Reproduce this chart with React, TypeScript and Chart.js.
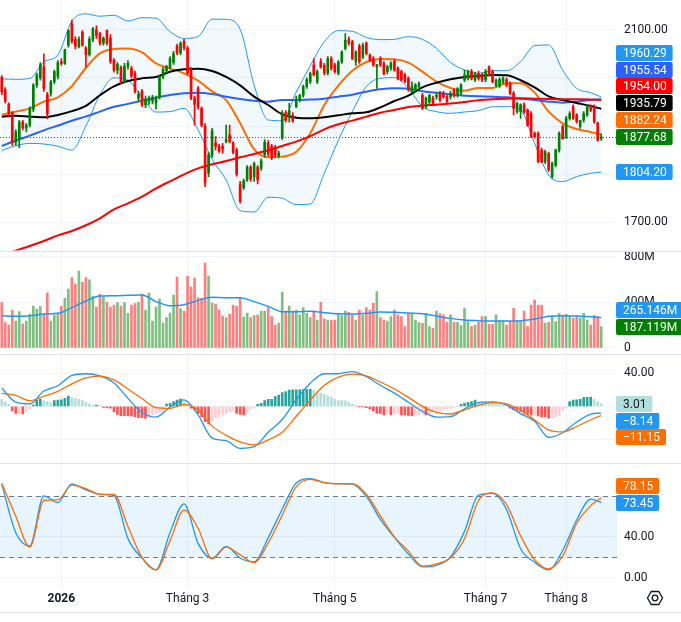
import React, { useEffect, useRef } from "react";
import { Chart, registerables } from "chart.js";

Chart.register(...registerables);

// ---------- Candles (one entry per trading day) ----------
const OPEN = [
  2001, 1975, 1945, 1928, 1866, 1875, 1908, 1896, 1902, 1935,
  1985, 2000, 2023, 1966, 1968, 1992, 2003, 2034, 2030, 2068,
  2112, 2080, 2065, 2095, 2062, 2048, 2080, 2100, 2092, 2072,
  2098, 2082, 2037, 2016, 2022, 1992, 2024, 2020, 2010, 1958,
  1972, 1944, 1950, 1952, 1948, 1960, 2002, 2015, 2022, 2032,
  2066, 2052, 2076, 2062, 2018, 1958, 1978, 1937, 1900, 1802,
  1840, 1865, 1858, 1858, 1868, 1882, 1865, 1850, 1778, 1772,
  1788, 1815, 1795, 1815, 1812, 1840, 1864, 1858, 1856, 1838,
  1875, 1928, 1920, 1922, 1940, 1954, 1964, 1982, 1992, 2027,
  1992, 2034, 2026, 2010, 2040, 2027, 2010, 2033, 2061, 2080,
  2075, 2034, 2066, 2044, 2072, 2047, 2040, 2023, 2040, 2030,
  2013, 2020, 2035, 2020, 2013, 2006, 1999, 1971, 1975, 1982,
  1964, 1940, 1950, 1958, 1961, 1968, 1968, 1961, 1961, 1974,
  1964, 1968, 1996, 1999, 2013, 1996, 2009, 2006, 1996, 2023,
  2013, 1985, 1983, 1992, 1996, 1988, 1968, 1930, 1930, 1944,
  1933, 1926, 1885, 1885, 1850, 1826, 1843, 1795, 1819, 1850,
  1899, 1878, 1916, 1940, 1923, 1899, 1912, 1923, 1941, 1940,
  1906, 1874,
];
const HIGH = [
  2005, 1980, 1948, 1930, 1892, 1912, 1912, 1905, 1940, 1988,
  2010, 2032, 2050, 1970, 1995, 2016, 2036, 2040, 2060, 2100,
  2120, 2086, 2085, 2098, 2065, 2085, 2105, 2108, 2095, 2085,
  2100, 2090, 2040, 2032, 2025, 2030, 2036, 2024, 2014, 1972,
  1976, 1962, 1962, 1964, 1962, 2005, 2022, 2026, 2044, 2055,
  2070, 2075, 2080, 2066, 2022, 1962, 1982, 1940, 1905, 1845,
  1895, 1878, 1862, 1864, 1902, 1902, 1868, 1854, 1785, 1790,
  1818, 1818, 1825, 1818, 1832, 1872, 1870, 1862, 1860, 1848,
  1932, 1932, 1947, 1928, 1962, 1966, 1985, 2000, 2012, 2040,
  2016, 2040, 2030, 2044, 2044, 2030, 2036, 2056, 2092, 2085,
  2078, 2056, 2070, 2072, 2075, 2050, 2044, 2028, 2044, 2034,
  2026, 2034, 2038, 2023, 2016, 2010, 2002, 1992, 1988, 1992,
  1968, 1960, 1966, 1962, 1970, 1972, 1972, 1964, 1972, 1978,
  1980, 1988, 2016, 2016, 2018, 2012, 2014, 2010, 2018, 2025,
  2016, 1998, 2000, 2002, 2000, 1992, 1972, 1950, 1946, 1948,
  1936, 1930, 1888, 1888, 1854, 1850, 1846, 1825, 1852, 1888,
  1902, 1920, 1930, 1944, 1926, 1912, 1930, 1945, 1944, 1944,
  1908, 1884,
];
const LOW = [
  1965, 1948, 1920, 1860, 1860, 1855, 1892, 1888, 1898, 1930,
  1980, 1995, 1972, 1915, 1962, 1988, 1998, 2026, 2028, 2064,
  2072, 2060, 2062, 2066, 2022, 2045, 2075, 2082, 2068, 2068,
  2068, 2030, 2012, 2008, 1988, 1990, 2018, 2000, 1968, 1952,
  1940, 1938, 1945, 1946, 1935, 1956, 1998, 2010, 2018, 2028,
  2048, 2048, 2058, 2006, 1955, 1902, 1935, 1898, 1774, 1795,
  1835, 1850, 1845, 1843, 1865, 1865, 1842, 1796, 1740, 1768,
  1785, 1785, 1785, 1780, 1808, 1836, 1838, 1830, 1836, 1834,
  1872, 1908, 1908, 1908, 1938, 1950, 1960, 1978, 1988, 2004,
  1988, 2020, 2006, 2006, 2016, 2010, 2006, 2030, 2058, 2068,
  2038, 2026, 2030, 2040, 2048, 2034, 2024, 1978, 2024, 2006,
  2008, 2016, 2014, 1996, 1993, 1990, 1972, 1968, 1972, 1975,
  1934, 1936, 1946, 1944, 1956, 1950, 1958, 1948, 1956, 1960,
  1960, 1964, 1992, 1996, 1996, 1992, 1995, 1992, 1992, 2004,
  1990, 1982, 1980, 1988, 1982, 1965, 1923, 1926, 1916, 1926,
  1899, 1876, 1875, 1824, 1824, 1822, 1806, 1791, 1815, 1846,
  1872, 1874, 1912, 1914, 1906, 1895, 1908, 1920, 1930, 1906,
  1868, 1870,
];
const CLOSE = [
  1971, 1952, 1925, 1866, 1888, 1908, 1896, 1902, 1937, 1985,
  2006, 2027, 1978, 1925, 1992, 2013, 2032, 2030, 2058, 2098,
  2076, 2066, 2080, 2068, 2048, 2080, 2102, 2088, 2072, 2082,
  2072, 2034, 2016, 2028, 1992, 2024, 2030, 2004, 1972, 1966,
  1944, 1956, 1958, 1960, 1958, 2002, 2018, 2024, 2040, 2050,
  2052, 2072, 2062, 2010, 1958, 1945, 1940, 1902, 1782, 1840,
  1890, 1858, 1848, 1852, 1872, 1868, 1845, 1800, 1744, 1786,
  1815, 1790, 1822, 1788, 1828, 1866, 1842, 1835, 1840, 1844,
  1928, 1912, 1932, 1910, 1954, 1964, 1982, 1996, 2009, 2006,
  2013, 2023, 2010, 2040, 2020, 2013, 2033, 2054, 2078, 2072,
  2040, 2054, 2034, 2068, 2051, 2037, 2027, 2027, 2027, 2009,
  2023, 2030, 2016, 1999, 1996, 1992, 1975, 1982, 1985, 1988,
  1937, 1958, 1964, 1947, 1964, 1954, 1961, 1951, 1968, 1964,
  1978, 1985, 2006, 2013, 1999, 2009, 1999, 1996, 2013, 2006,
  1992, 1995, 1997, 1999, 1985, 1968, 1937, 1947, 1944, 1930,
  1902, 1878, 1878, 1826, 1826, 1847, 1809, 1822, 1850, 1885,
  1874, 1916, 1926, 1916, 1909, 1912, 1926, 1940, 1933, 1909,
  1871, 1877.68,
];

// ---------- Volume (millions) ----------
const VOLUME_M = [
  397, 221, 201, 332, 236, 318, 210, 236, 297, 367,
  341, 362, 294, 484, 236, 289, 303, 367, 435, 517,
  616, 560, 674, 575, 616, 598, 455, 359, 470, 449,
  400, 359, 376, 397, 367, 397, 303, 376, 388, 400,
  473, 332, 481, 236, 359, 429, 218, 265, 306, 464,
  622, 344, 324, 631, 534, 613, 441, 435, 745, 631,
  394, 385, 332, 280, 265, 297, 376, 367, 441, 271,
  306, 265, 283, 289, 324, 324, 353, 274, 201, 218,
  490, 324, 367, 324, 332,
  289, 353, 303, 265, 326, 245, 400, 254, 245, 245,
  245, 303, 283, 324, 312, 289, 245, 332, 289, 353,
  332, 391, 493, 265, 245, 236, 274, 332, 289, 274,
  186, 303, 303, 245, 221, 215, 303, 186, 172, 324,
  300, 289, 224, 289, 224, 224, 195, 347, 230, 186,
  201, 224, 274, 274, 207, 207, 289, 236, 236, 201,
  230, 347, 236, 230, 324, 186, 376, 420, 376, 376,
  215, 224, 280, 230, 303, 283, 294, 274, 259, 274,
  259, 303, 245, 201, 283, 274, 187.119,
];

// ---------- MACD histogram ----------
const MACD_HIST = [
  8.5, 5.7, 2.4, -5.7, -8.5, -8.3, -9.3, -6.5, -3.6, 1.6,
  7.7, 8.9, 6.9, 5.7, 4.8, 6.9, 7.7, 7.8, 9.7, 12.5,
  10.5, 9.7, 8.5, 7.7, 4.8, 2.4, 1.2, 1.6, 0.8, -1.2,
  -1.6, -2.4, -6.5, -9.7, -11.3, -11.3, -11.4, -11.7, -12.5, -13.7,
  -13.7, -14.5, -13.7, -10.5, -8.5, -7.3, -5.7, 2.8, 3.6, 5.7,
  7.7, 8.9, 4.4, 1.6, -2.4, -4.4, -8.5, -12.5, -18.6, -21.4,
  -17.4, -14.5, -12.5, -10.5, -8.5, -6.9, -5.7, -8.5, -9.7, -10.5,
  -7.3, -3.6, -2.4, 2.4, 3.6, 6.9, 8.5, 8.6, 11.7, 13.7,
  16.6, 17.8, 19.8, 19.9, 20.0, 20.1, 20.2, 20.6, 20.7, 19.8,
  17.8, 15.8, 14.5, 12.5, 10.9, 8.5, 6.9,
  6.9, 6.7, 4.8, 2.4, 1.2, -0.4, -0.4, -1.6, -3.2, -5.3,
  -8.5, -8.5, -10.5, -8.5, -10.5, -9.3, -8.5, -10.5, -10.5, -10.9,
  -11.3, -10.5, -10.3, -9.3, -10.5, -8.5, -6.5, -5.7, -5.3, -4.4,
  -3.2, -2.4, -1.2, -0.4, 2.4, 3.6, 4.8, 5.7, 7.7, 5.5,
  5.3, 5.2, 4.8, 4.4, 3.6, 2.4, 1.6, 0.4, -2.4, -4.4,
  -4.6, -6.5, -8.5, -9.3, -10.5, -10.3, -11.7, -12.5, -12.6, -14.5,
  -14.3, -12.5, -10.5, -5.7, -2.4, 5.7, 7.7, 7.8, 8.5, 10.9,
  11.0, 11.1, 8.5, 5.7, 3.01,
];

// ---------- Indicator lines, read every 4th day plus the last day ----------
const SAMPLE_STEP = 4;
const SAMPLE_BARS = Array.from({ length: 43 }, (_, k) => k * SAMPLE_STEP).concat([CLOSE.length - 1]);

const BB_UPPER = [
  1998, 1997, 1999, 2033, 2047.5, 2118, 2133, 2128, 2130, 2118,
  2125, 2124, 2096, 2082, 2085.6, 2122, 2121.6, 2101, 1985, 1912.6,
  1911, 1970.7, 2025, 2075, 2098, 2096.7, 2084, 2079.4, 2080, 2085.6,
  2080, 2061.4, 2032, 2016.4, 2009.5, 2015, 2015, 2033.7, 2067, 2068.3,
  2016.4, 1978.3, 1969.3, 1960.29,
];
const BB_LOWER = [
  1849, 1859.3, 1864, 1862.8, 1858, 1850, 1900, 1965, 2000, 1995,
  1961, 1929, 1929.9, 1936.8, 1891.8, 1831, 1788, 1724.4, 1721.6, 1752,
  1750, 1737, 1738, 1801.9, 1870, 1929.9, 1981.8, 1999, 2000.5, 1978.3,
  1940.3, 1929.9, 1926.4, 1929.2, 1932, 1940, 1940.3, 1933.3, 1864, 1798.4,
  1784.6, 1795, 1801.9, 1804.2,
];
const BB_BASIS = [
  1923.7, 1929.9, 1936.8, 1950.6, 1959.6, 1983, 2021, 2051, 2060, 2061,
  2053, 2030, 2019.8, 2009.5, 1994.2, 1972, 1954, 1905.7, 1851.7, 1835,
  1836.5, 1846.8, 1885, 1943.7, 1984, 2015, 2033, 2039.2, 2038.5, 2031.6,
  2012.9, 1992.2, 1979, 1973.5, 1979, 1979, 1988.7, 1988.7, 1969.3, 1929.9,
  1905.7, 1893.9, 1887.7, 1882.24,
];
const MA_BLACK = [
  1919.5, 1921.6, 1919.5, 1918.1, 1923, 1931, 1942, 1964, 1982.5, 1993.5,
  1999, 2002, 2012.9, 2017.8, 2019.1, 2014.3, 2001.9, 1984.5, 1961, 1943.7,
  1924.4, 1917.4, 1916, 1918.1, 1922.3, 1926.4, 1928.5, 1938.9, 1952, 1963,
  1980.4, 1990, 1997, 2001.9, 2004, 2006, 2005.3, 1995, 1980.4, 1961.7,
  1954.1, 1947.9, 1941.6, 1935.79,
];
const MA_BLUE = [
  1858.6, 1870, 1880, 1891, 1901, 1911, 1920, 1930, 1940, 1946,
  1952.5, 1959, 1964.5, 1968, 1969.3, 1966.6, 1961, 1956.2, 1952.7, 1950.6,
  1954.1, 1954.1, 1955, 1956.9, 1961, 1965.2, 1971.4, 1976.2, 1978.3, 1977.6,
  1972.1, 1969.3, 1965.5, 1963.1, 1961.7, 1961, 1959.6, 1956.9, 1954.1, 1950.6,
  1948.6, 1950.6, 1954.1, 1955.54,
];
const MA_RED = [
  1632, 1641.3, 1651, 1661.4, 1673, 1682, 1694, 1708.5, 1727, 1739.6,
  1753.4, 1770.5, 1785.3, 1799.8, 1812.2, 1820.5, 1827.5, 1835.1, 1842, 1849.6,
  1858.6, 1867.6, 1879, 1893.2, 1903.6, 1911.2, 1919.5, 1927.8, 1933.3, 1939.6,
  1942.3, 1944.4, 1946.8, 1949.9, 1953.4, 1955.5, 1956.9, 1957.6, 1956.9, 1956.2,
  1955.8, 1955.5, 1955, 1954.0,
];
const VOL_MA = [
  282, 277, 282, 297, 303, 353, 411, 455, 458, 461,
  464, 406, 370, 379, 417, 444, 441, 441, 406, 364,
  318, 318, 321, 309, 300, 297, 303, 315, 312, 306,
  300, 280, 259, 245, 239, 236, 236, 239, 253, 277,
  283, 280, 274, 265.146,
];
const MACD_LINE = [
  22, 5.1, 3, 18.5, 25, 37.5, 39.5, 37, 28.5, 9.6,
  -7.5, -13, -1, 7.8, -10.4, -38.5, -41.7, -51, -49, -31.5,
  -16, 8, 28, 39.5, 39.5, 42, 36, 25.5, 16, 4.9,
  -6, -13, -12.5, -3, 4.5, 5.5, 1.5, -8.8, -18, -37.6,
  -32, -19, -9.5, -8.14,
];
const MACD_SIGNAL = [
  15.8, 13.3, 6.8, 12.2, 18.2, 27.3, 34.5, 36.6, 32, 21,
  9.4, -1.5, -2.4, 2.3, -4.5, -23.7, -35.3, -43.2, -46.8, -40.7,
  -31.4, -12, 7.5, 25.5, 35.3, 39.1, 37, 29.5, 21, 10.8,
  0, -7.2, -9.3, -4.2, 1.1, 4.4, 3, -4.9, -16.5, -28.5,
  -31, -24.5, -16.3, -11.15,
];
const STOCH_K = [
  91.5, 44, 31, 80, 73.5, 91.8, 85.8, 81.6, 80.4, 38.2,
  19.2, 7.8, 44.2, 72.3, 33.6, 19, 30.6, 19.3, 15.5, 39.1,
  67, 92.6, 97, 93, 92, 91.5, 79.5, 57, 39.4, 23.2,
  10.5, 12.1, 20.2, 45.3, 80.7, 82.5, 66.6, 28.3, 15.1, 7.6,
  26.6, 56.4, 76.8, 73.45,
];
const STOCH_D = [
  92.5, 60, 30, 75.5, 76.2, 90.5, 87.2, 81.5, 81.5, 50,
  19.8, 7.5, 36.2, 66, 48.4, 18.3, 29.9, 22.4, 14.7, 34,
  61, 89, 96.2, 93, 91.7, 92.1, 81.6, 60.5, 40, 26,
  11.3, 13.5, 19.5, 38, 75.5, 83, 71.4, 41, 17.5, 8.5,
  21, 53, 70.5, 78.15,
];

// ---------- Axes ----------
const EMPTY_SLOTS_RIGHT = 4;
const MONTH_BARS = [17, 53, 95, 138, 161];
const MONTH_LABELS = ["2026", "Tháng 3", "Tháng 5", "Tháng 7", "Tháng 8"];
const PRICE_TICKS = [1700, 1800, 1900, 2000, 2100];
const PRICE_TICK_LABELS = [2100, 1700];
const VOL_TICKS = [0, 400, 800];
const MACD_TICKS = [-40, 0, 40];
const MACD_TICK_LABELS = [40];
const STOCH_TICKS = [0, 40];
const STOCH_BANDS = [80, 20];

// ---------- Styles ----------
const FONT_FAMILY = "Roboto, 'Liberation Sans', Arial, sans-serif";
const TEXT = "#131722";
const GRID = "#f0f3fa";
const SEPARATOR = "#e0e3eb";
const UP = "#008000";
const DOWN = "#ff0000";
const BB_COLOR = "#2196f3";
const ORANGE = "#ff6d00";
const BLUE_MA = "#2962ff";
const RED_MA = "#ff0000";
const BLACK_MA = "#000000";
const AXIS_W = 64;
const TAG_STEP = 16.8;

const lastBar = CLOSE.length - 1;
const lastS = SAMPLE_BARS.length - 1;
const isUp = CLOSE.map((c, i) => c >= OPEN[i]);
const candleColors = isUp.map((u) => (u ? UP : DOWN));
const volColors = isUp.map((u) => (u ? "rgba(0,128,0,0.5)" : "rgba(255,0,0,0.5)"));
const histColors = MACD_HIST.map((h, i) => {
  const prev = i > 0 ? MACD_HIST[i - 1] : h;
  const rising = prev < h;
  if (h >= 0) return rising ? "#26a69a" : "#b2dfdb";
  return rising ? "#ffcdd2" : "#ff5252";
});

const sampled = (values: number[]) => SAMPLE_BARS.map((bar, k) => ({ x: bar, y: values[k] }));

const lineDs = (values: number[], color: string, width: number, axis: string, order: number, extra: any = {}) => ({
  type: "line",
  data: sampled(values),
  borderColor: color,
  borderWidth: width,
  pointRadius: 0,
  cubicInterpolationMode: "monotone",
  yAxisID: axis,
  order,
  clip: 0,
  ...extra,
});

const fmtSigned = (v: number) => (v < 0 ? "\u2212" : "") + Math.abs(v).toFixed(2);

function drawTags(ctx: any, scale: any, tags: any[], fmt: (v: number) => string) {
  const items = tags.map((t) => ({ ...t, y: scale.getPixelForValue(t.value) }));
  items.sort((a, b) => a.y - b.y);
  const ai = items.findIndex((t) => t.anchor);
  for (let k = ai - 1; k >= 0; k--) items[k].y = Math.min(items[k].y, items[k + 1].y - TAG_STEP);
  for (let k = ai + 1; k < items.length; k++) items[k].y = Math.max(items[k].y, items[k - 1].y + TAG_STEP);
  ctx.save();
  ctx.font = `12px ${FONT_FAMILY}`;
  ctx.textBaseline = "middle";
  ctx.textAlign = "left";
  const left = scale.left - 1;
  for (const t of items) {
    const text = fmt(t.value);
    const w = ctx.measureText(text).width + 13;
    const top = Math.round(t.y - 8);
    ctx.fillStyle = t.color;
    ctx.beginPath();
    if (ctx.roundRect) ctx.roundRect(left, top, w, 16, 2);
    else ctx.rect(left, top, w, 16);
    ctx.fill();
    ctx.fillStyle = t.textColor || "#ffffff";
    ctx.fillText(text, left + 7, top + 8.5);
  }
  ctx.restore();
}

const panesPlugin = {
  id: "panes",
  beforeDatasetsDraw(chart: any) {
    const { ctx, chartArea, scales } = chart;
    const yS = scales.yS;
    const yTop = yS.getPixelForValue(STOCH_BANDS[0]);
    const yBot = yS.getPixelForValue(STOCH_BANDS[1]);
    ctx.save();
    ctx.fillStyle = "rgba(33,150,243,0.1)";
    ctx.fillRect(chartArea.left, yTop, chartArea.right - chartArea.left, yBot - yTop);
    ctx.strokeStyle = "#787b86";
    ctx.lineWidth = 1;
    ctx.setLineDash([5, 4]);
    for (const y of [yTop, yBot]) {
      ctx.beginPath();
      ctx.moveTo(chartArea.left, Math.round(y) + 0.5);
      ctx.lineTo(chartArea.right, Math.round(y) + 0.5);
      ctx.stroke();
    }
    const yLast = scales.yP.getPixelForValue(CLOSE[lastBar]);
    ctx.strokeStyle = candleColors[lastBar];
    ctx.setLineDash([1, 2]);
    ctx.beginPath();
    ctx.moveTo(chartArea.left, Math.round(yLast) + 0.5);
    ctx.lineTo(chartArea.right, Math.round(yLast) + 0.5);
    ctx.stroke();
    ctx.restore();
  },
  afterDraw(chart: any) {
    const { ctx, scales, width } = chart;
    ctx.save();
    ctx.strokeStyle = SEPARATOR;
    ctx.lineWidth = 1;
    for (const y of [scales.yV.top, scales.yM.top, scales.yS.top, scales.x.top + 24]) {
      ctx.beginPath();
      ctx.moveTo(0, Math.round(y) + 0.5);
      ctx.lineTo(width, Math.round(y) + 0.5);
      ctx.stroke();
    }
    ctx.restore();

    drawTags(ctx, scales.yP, [
      { value: BB_UPPER[lastS], color: BB_COLOR },
      { value: MA_BLUE[lastS], color: BLUE_MA },
      { value: MA_RED[lastS], color: RED_MA },
      { value: MA_BLACK[lastS], color: BLACK_MA },
      { value: BB_BASIS[lastS], color: ORANGE },
      { value: CLOSE[lastBar], color: candleColors[lastBar], anchor: true },
      { value: BB_LOWER[lastS], color: BB_COLOR },
    ], (v) => v.toFixed(2));
    drawTags(ctx, scales.yV, [
      { value: VOL_MA[lastS], color: BB_COLOR },
      { value: VOLUME_M[lastBar], color: candleColors[lastBar], anchor: true },
    ], (v) => v.toFixed(3) + "M");
    drawTags(ctx, scales.yM, [
      { value: MACD_HIST[lastBar], color: histColors[lastBar], textColor: TEXT, anchor: true },
      { value: MACD_LINE[lastS], color: BB_COLOR },
      { value: MACD_SIGNAL[lastS], color: ORANGE },
    ], fmtSigned);
    drawTags(ctx, scales.yS, [
      { value: STOCH_K[lastS], color: BB_COLOR, anchor: true },
      { value: STOCH_D[lastS], color: ORANGE },
    ], (v) => v.toFixed(2));

    // settings button in the time axis corner
    const cx = width - 26;
    const cy = scales.x.top + 10;
    ctx.save();
    ctx.strokeStyle = TEXT;
    ctx.lineWidth = 1.3;
    ctx.beginPath();
    for (let k = 0; k < 6; k++) {
      const a = (Math.PI / 3) * k;
      const px = cx + 7.5 * Math.cos(a);
      const py = cy + 7.5 * Math.sin(a);
      if (k === 0) ctx.moveTo(px, py);
      else ctx.lineTo(px, py);
    }
    ctx.closePath();
    ctx.stroke();
    ctx.beginPath();
    ctx.arc(cx, cy, 2.8, 0, Math.PI * 2);
    ctx.stroke();
    ctx.restore();
  },
};

const yAxis = (weight: number, min: number, max: number, ticks: number[], label: (v: number) => string) => ({
  type: "linear",
  position: "right",
  stack: "panes",
  stackWeight: weight,
  min,
  max,
  offset: false,
  grid: { color: GRID, drawTicks: false, lineWidth: 1 },
  border: { display: false },
  ticks: {
    padding: 7,
    color: TEXT,
    font: { family: FONT_FAMILY, size: 12 },
    callback: (v: number) => label(v),
  },
  afterBuildTicks: (scale: any) => {
    scale.ticks = ticks.map((v) => ({ value: v }));
  },
  afterFit: (scale: any) => {
    scale.width = AXIS_W;
    scale.paddingTop = 0;
    scale.paddingBottom = 0;
  },
});

export default function App() {
  const ref = useRef<HTMLCanvasElement>(null);

  useEffect(() => {
    const canvas = ref.current;
    if (!canvas) return;
    const nSlots = CLOSE.length + EMPTY_SLOTS_RIGHT;
    const labels = Array.from({ length: nSlots }, (_, i) => i);

    const datasets: any[] = [
      {
        type: "bar",
        data: OPEN.map((o, i) => [o, CLOSE[i]]),
        backgroundColor: candleColors,
        barThickness: 2,
        minBarLength: 1,
        grouped: false,
        yAxisID: "yP",
        order: 0,
      },
      {
        type: "bar",
        data: LOW.map((l, i) => [l, HIGH[i]]),
        backgroundColor: candleColors,
        barThickness: 1,
        grouped: false,
        yAxisID: "yP",
        order: 1,
      },
      lineDs(MA_RED, RED_MA, 2, "yP", 2),
      lineDs(MA_BLACK, BLACK_MA, 2, "yP", 3),
      lineDs(MA_BLUE, BLUE_MA, 2, "yP", 4),
      lineDs(BB_BASIS, ORANGE, 2, "yP", 5),
      lineDs(BB_UPPER, BB_COLOR, 1, "yP", 6),
    ];
    const upperIndex = datasets.length - 1;
    datasets.push(
      lineDs(BB_LOWER, BB_COLOR, 1, "yP", 7, {
        fill: { target: upperIndex },
        backgroundColor: "rgba(33,150,243,0.06)",
      })
    );
    datasets.push(
      {
        type: "bar",
        data: VOLUME_M,
        backgroundColor: volColors,
        barThickness: 2,
        grouped: false,
        yAxisID: "yV",
        order: 11,
      },
      lineDs(VOL_MA, BB_COLOR, 1.5, "yV", 10),
      {
        type: "bar",
        data: MACD_HIST,
        backgroundColor: histColors,
        barThickness: 2,
        grouped: false,
        yAxisID: "yM",
        order: 22,
      },
      lineDs(MACD_LINE, BB_COLOR, 1.3, "yM", 21),
      lineDs(MACD_SIGNAL, ORANGE, 1.3, "yM", 20),
      lineDs(STOCH_K, BB_COLOR, 1.3, "yS", 31),
      lineDs(STOCH_D, ORANGE, 1.3, "yS", 30)
    );

    const chart = new Chart(canvas, {
      type: "bar",
      data: { labels, datasets },
      plugins: [panesPlugin],
      options: {
        responsive: false,
        animation: false,
        events: [],
        layout: { padding: 0 },
        plugins: { legend: { display: false }, tooltip: { enabled: false } },
        scales: {
          x: {
            type: "category",
            offset: true,
            grid: {
              offset: false,
              drawTicks: false,
              color: (c: any) => (MONTH_BARS.includes(c.index) ? GRID : "rgba(0,0,0,0)"),
            },
            border: { display: false },
            ticks: {
              autoSkip: false,
              maxRotation: 0,
              minRotation: 0,
              padding: 4,
              color: TEXT,
              font: (c: any) => ({
                family: FONT_FAMILY,
                size: 12,
                weight: c.index === MONTH_BARS[0] ? "bold" : "normal",
              }),
              callback: (_v: any, index: number) => {
                const k = MONTH_BARS.indexOf(index);
                return k >= 0 ? MONTH_LABELS[k] : "";
              },
            },
            afterFit: (scale: any) => {
              scale.height = 34;
              scale.paddingLeft = 0;
              scale.paddingRight = 0;
            },
          },
          yP: yAxis(250.5, 1641.6, 2161.7, PRICE_TICKS, (v) =>
            PRICE_TICK_LABELS.includes(v) ? v.toFixed(2) : ""
          ),
          yV: yAxis(103.2, -50.9, 854.4, VOL_TICKS, (v) => (v === 0 ? "0" : v + "M")),
          yM: yAxis(109.6, -69.1, 63.8, MACD_TICKS, (v) =>
            MACD_TICK_LABELS.includes(v) ? v.toFixed(2) : ""
          ),
          yS: yAxis(124.7, -10.1, 111.9, STOCH_TICKS, (v) => v.toFixed(2)),
        },
      } as any,
    } as any);

    return () => chart.destroy();
  }, []);

  return (
    <div style={{ position: "fixed", left: 0, top: 0, width: 681, height: 622, background: "#ffffff" }}>
      <canvas ref={ref} width={681} height={622} style={{ display: "block", width: 681, height: 622 }} />
    </div>
  );
}
